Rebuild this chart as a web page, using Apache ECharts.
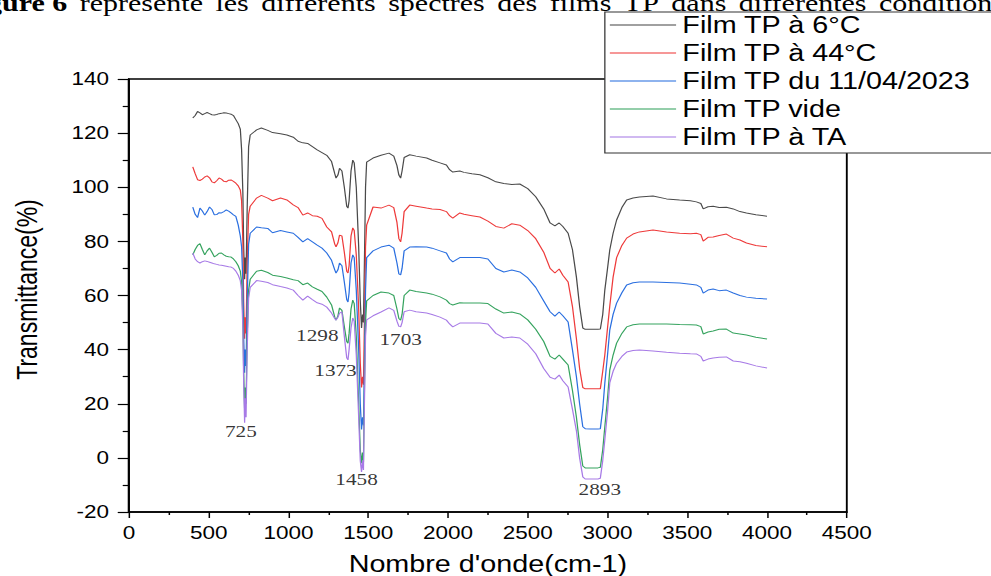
<!DOCTYPE html>
<html>
<head>
<meta charset="utf-8">
<script src="https://cdn.jsdelivr.net/npm/echarts/dist/echarts.min.js"></script>
<style>
  html, body { margin: 0; padding: 0; background: #fff; overflow: hidden; }
  #wrap { width: 991px; height: 576px; overflow: hidden; position: relative; }
  /* the figure is laid out on a narrower canvas and widened horizontally */
  #chart { width: 793px; height: 576px; transform: scaleX(1.2497); transform-origin: 0 0; }
</style>
</head>
<body>
<div id="wrap"><div id="chart"></div></div>
<script>
// Wavenumber grid (cm-1) shared by all spectra
const wavenumbers = [
  400,415,430,445,460,475,490,505,520,535,550,565,580,595,610,625,640,655,670,685,698,
  706,714,719,725,729,734,741,750,
  760,800,830,870,900,950,990,1030,1060,1090,1120,1150,1180,1210,1240,1270,1290,1298,1310,1320,1335,1350,1365,1373,1380,1392,1403,1412,1425,1440,1450,1458,1464,1470,1476,1483,1490,
  1530,1580,1630,1660,1680,1692,1703,1712,1725,1760,1800,1866,1900,1950,1990,2010,2030,2074,2100,2150,2200,2250,2300,2350,2400,2450,2500,2550,
  2600,2640,2670,2697,2720,2753,2780,2805,2825,2845,2860,2893,2940,2955,2970,2983,3000,3014,3035,3057,3090,3120,3160,3200,3285,3370,3452,3520,3557,3585,3600,3630,3662,3700,3745,3788,3830,3871,3930,4000
];

// Transmittance (%) of each film
const film6C = [
  125.6,126.5,128,127.5,126.8,127.2,127.6,127.2,126.8,126.7,126.9,127.2,127.3,127.5,127.4,127.2,127,126.5,125,123.5,121.5,
  114,98,78,66,74,68,92,115,
  119.3,121.2,121.9,121,120.2,119.8,119.3,118.5,117,116.4,116.2,115,113.8,112.8,111.8,109.5,105,103.4,104.5,107,106,100,93,92.3,95,106,110,109,100,78,58,48,53,50,72,100,109.3,
  110.8,111.8,112.6,111.5,108,104.5,103.4,106,111,112,111.5,110.8,110,109,108.2,106.5,105.6,106,105.5,105,104.6,103.5,102,101.4,101,101.2,99.5,96.5,
  92,86.8,85.7,86.8,85.5,83,77,66.8,56,48,47.5,47.5,47.5,47.6,53,62,70,76.8,83,87.9,92.5,95.3,96,96.4,96.8,95.7,95.3,95,94.6,94,92,92.8,93,92.5,92.6,92,91,90.5,89.8,89.3
];
const film44C = [
  107.5,105,102.8,102.5,103,103.8,104.2,103.5,102,101.6,102.4,103.4,103,102.2,102,102.6,102.7,102.2,101.5,100.5,99,
  95,80,58,44,52,46,72,90,
  93,96,97,96,95,96,95.3,93.5,92.5,89.7,90.5,89.5,89.3,88.5,85.3,83.5,79,78,79.5,82.3,82,76,69,68.3,71,82,85,84,75,55,35,26,30,27,50,78,86,
  92.7,92.3,93.4,92.5,87,81,79.8,83,91,93.4,93,92.3,92,91.8,91,89.5,88.6,90.5,90,89.5,89,87.5,85.5,84.9,86.5,86,84,81,
  76,70,68.3,69.8,67.5,65,56,44,33,26,25.5,25.5,25.5,25.5,32,38,48,56,66.8,74,78.5,81.2,82.7,83.5,84.2,83.5,83,82.8,83,82.5,80.1,81.5,81.6,82.2,82.7,81.2,80.5,79.4,78.5,78
];
const film110423 = [
  92.7,90,88.8,92.3,91.2,89.7,91,92.7,91.8,89.8,89.9,90.6,90.5,91,91.6,91.2,90.5,89.8,89.2,86,82,
  78,65,45,31.5,40,34,58,79,
  83,85.3,85,84.8,83.2,84,83.5,83,81.5,79.8,81,79.8,78.6,77.5,75.7,73,69.5,68.3,69.5,72,71,65,58.5,57.6,61,72,75,74,62,40,20,10.5,15,12,35,62,74,
  76.5,77.9,78.6,77.5,72,68,67.6,70,76.5,77.9,78,77.9,77.5,76.5,75.7,73.5,72.4,74,74,74,74,73.5,70,68.7,69.4,68.7,66.5,63,
  58,54,52.4,53.9,52.5,50.2,40,30,20,11.5,10.8,10.7,10.7,10.8,18,27.6,38,47.2,53,57.2,61,63.9,64.7,65,65,64.8,64.6,64.2,63.9,63,60.9,62,62.4,61.8,62,60.9,60,59.4,59,58.7
];
const filmVide = [
  75,77,78.5,79.2,77,75,76.5,77.5,76,74.3,74.8,75.6,75.7,75,74.5,74.3,74.2,73.5,72.5,71,69,
  65,52,32,18,26,20,45,62,
  66,69,69.3,68.5,67.5,67,66.5,65.8,65.5,64,64.6,63.2,62.3,61.5,59.4,56.5,52,50.9,52.5,55.4,54.5,48.5,43,42.4,46,55,58.3,57,45,20,3,-2,2,-1.5,25,50,58,
  60,61.3,60.9,60,55,51.5,50.9,53,60,62,61.5,60.9,60.5,59.5,58.3,57,56.5,57.3,57.2,57.2,57.2,57,55,53.5,53.9,53.2,51,47.5,
  43,37.5,36.5,38,36.5,34.3,25,15,5,-3,-3.7,-3.7,-3.7,-3.5,3,11.4,22,32.4,38,42.4,46,48.4,49.2,49.5,49.5,49.5,49.3,49.2,49.1,48.5,45.8,46.5,46.9,47.5,47.6,46.1,45.8,45.4,44.6,43.9
];
const filmTA = [
  75.7,73.5,72.5,72,72.5,72.8,72.6,72.3,72,71.7,71.5,71.3,71.2,71,70.8,70.6,70.5,70,69,67.5,65.5,
  62,48,28,13,22,15,40,59,
  63,65.5,65.3,64.8,64,63.3,62.8,62,60,58.3,59.8,58.5,57.3,56.8,55.7,53.5,51.5,50.9,52,53.5,53.9,45,37,36.2,40,48,51.7,50.5,38,15,-1,-5.2,-1,-4.5,20,45,51,
  52.5,53.9,55.4,54.5,50.5,48.6,48.4,50,54,54.6,54,53.5,53,52,50.9,49.5,48.4,49.8,49.8,49.8,49.8,49.5,46,44.3,44.7,44.3,42,38.5,
  33,29.8,29.1,30.6,28.5,26.2,18,10,0,-7,-7.8,-7.8,-7.8,-7.5,-1,6.6,17,27.7,32,35,37.5,39.1,39.7,39.9,39.5,39,38.7,38.5,38.4,37.5,35.8,36.5,36.9,37.2,37.3,35.8,35.5,35,34,33.2
];

const seriesNames = ['Film TP à 6°C', 'Film TP à 44°C', 'Film TP du 11/04/2023', 'Film TP vide', 'Film TP à TA'];
const seriesValues = [film6C, film44C, film110423, filmVide, filmTA];

// Assigned absorption bands and the transmittance level where each tag sits
const peakBands = [725, 1298, 1373, 1458, 1703, 2893];
const peakTagLevel = [9.9, 45.4, 32.5, -7.8, 43.7, -11.5];

// Axis ticks
const xTicks = { min: 0, max: 4500, step: 500 };
const yTicks = { min: -20, max: 140, step: 20 };

// Running text above the figure (justified line)
const captionLead = 'gure 6';
const captionWords = ['représente', 'les', 'différents', 'spectres', 'des', 'films', 'TP', 'dans', 'différentes', 'conditions'];

// ---- styling ----
const colors = ['#4a4a4a', '#ee3a3a', '#2a6fe0', '#35a35e', '#a77ae6'];
const tagShift = { 725: -3, 1298: -15, 1373: -10, 1458: -4, 1703: 0, 2893: 7.5 };
const sans = 'Liberation Sans, Arial, sans-serif';
const serif = 'Liberation Serif, Times New Roman, serif';

const chart = echarts.init(document.getElementById('chart'), null, { renderer: 'svg' });

const lineSeries = seriesNames.map((name, i) => ({
  name,
  type: 'line',
  data: wavenumbers.map((w, k) => [w, seriesValues[i][k]]),
  symbol: 'none',
  showSymbol: false,
  lineStyle: { color: colors[i], width: 1 },
  itemStyle: { color: colors[i] },
  z: 2,
  animation: false
}));

const tagSeries = {
  type: 'scatter',
  data: peakBands.map((b, k) => ({ value: [b, peakTagLevel[k]], name: String(b) })),
  symbolSize: 0,
  silent: true,
  animation: false,
  z: 5,
  label: {
    show: true,
    position: 'inside',
    formatter: p => p.name,
    fontFamily: serif,
    fontSize: 17,
    color: '#000'
  },
  labelLayout: p => ({ dx: tagShift[peakBands[p.dataIndex]] || 0 })
};

// justified spacing between words of the running text
const captionText = '{b|' + captionLead + '}{s| }' + captionWords.join('{s| }');

chart.setOption({
  animation: false,
  backgroundColor: '#fff',
  grid: {
    left: 103.2, right: 115.4, top: 79, bottom: 64,
    show: true, borderColor: '#000', borderWidth: 1.5,
    outerBoundsMode: 'none', containLabel: false
  },
  legend: {
    orient: 'vertical',
    left: 484, top: 12,
    data: seriesNames,
    icon: 'rect',
    backgroundColor: '#fff',
    borderColor: '#333', borderWidth: 1,
    padding: [1, 40, 4, 4],
    itemWidth: 53, itemHeight: 1.4, itemGap: 4,
    itemStyle: { opacity: 0.7 },
    textStyle: { fontFamily: sans, fontSize: 23, color: '#000', lineHeight: 24 },
    selectedMode: false,
    z: 10
  },
  xAxis: {
    type: 'value',
    min: xTicks.min, max: xTicks.max, interval: xTicks.step,
    name: "Nombre d'onde(cm-1)",
    nameLocation: 'middle', nameGap: 41,
    nameTextStyle: { fontFamily: sans, fontSize: 23, color: '#000' },
    axisLine: { show: true, onZero: false, lineStyle: { color: '#000', width: 1.6 } },
    axisTick: { show: true, inside: false, length: 6, lineStyle: { color: '#000', width: 1.2 } },
    minorTick: { show: true, splitNumber: 2, length: 3, lineStyle: { color: '#000', width: 1.2 } },
    axisLabel: { fontFamily: sans, fontSize: 18, color: '#000', margin: 12, formatter: v => String(v) },
    splitLine: { show: false }
  },
  yAxis: {
    type: 'value',
    min: yTicks.min, max: yTicks.max, interval: yTicks.step,
    name: 'Transmittance(%)',
    nameLocation: 'middle', nameGap: 70, nameRotate: 90,
    nameTextStyle: { fontFamily: sans, fontSize: 23, color: '#000', padding: [0, 0, 0, 12] },
    axisLine: { show: true, onZero: false, lineStyle: { color: '#000', width: 1.6 } },
    axisTick: { show: true, inside: false, length: 9, lineStyle: { color: '#000', width: 1.2 } },
    minorTick: { show: true, splitNumber: 2, length: 5, lineStyle: { color: '#000', width: 1.2 } },
    axisLabel: { fontFamily: sans, fontSize: 18, color: '#000', margin: 16, formatter: v => String(v) },
    splitLine: { show: false }
  },
  graphic: [{
    type: 'text',
    left: -10.4, top: -9,
    z: 20,
    style: {
      text: captionText,
      font: '24px ' + serif,
      fill: '#000',
      rich: {
        b: { fontWeight: 'bold', fontSize: 24, fontFamily: serif },
        s: { width: 10, fontSize: 24, fontFamily: serif }
      }
    }
  }],
  series: [...lineSeries, tagSeries]
});
</script>
</body>
</html>
